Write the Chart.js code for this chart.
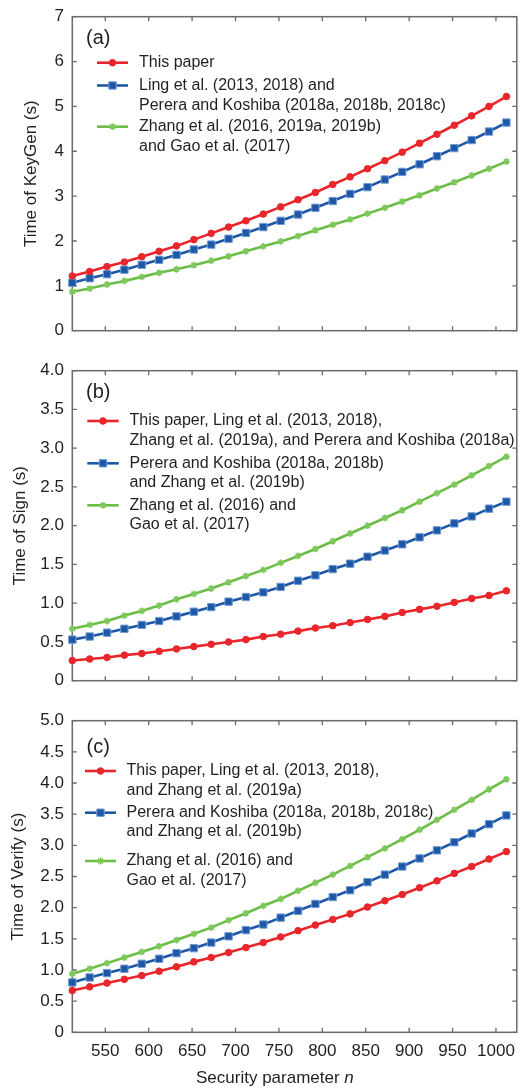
<!DOCTYPE html>
<html><head><meta charset="utf-8">
<script src="https://cdn.jsdelivr.net/npm/chart.js@4.4.0/dist/chart.umd.min.js"></script>
<style>
html,body{margin:0;padding:0;background:#fff;}
body{width:523px;height:1088px;position:relative;overflow:hidden;}
canvas{position:absolute;left:0;}
</style></head><body>
<canvas id="ca" width="523" height="345" style="top:0px"></canvas>
<canvas id="cb" width="523" height="350" style="top:345px"></canvas>
<canvas id="cc" width="523" height="393" style="top:695px"></canvas>
<script>
// ---------- data ----------
const securityN = [512,532,552,572,592,612,632,652,672,692,712,732,752,772,792,812,832,852,872,892,912,932,952,972,992,1012];

const keyGenThisPaper = [1.22,1.32,1.43,1.53,1.65,1.77,1.89,2.03,2.17,2.31,2.45,2.60,2.76,2.92,3.08,3.26,3.43,3.61,3.79,3.98,4.18,4.38,4.58,4.79,5.00,5.22];
const keyGenLing      = [1.07,1.17,1.26,1.36,1.47,1.58,1.69,1.81,1.92,2.05,2.18,2.31,2.45,2.59,2.74,2.89,3.05,3.20,3.37,3.54,3.71,3.89,4.07,4.25,4.44,4.64];
const keyGenZhang     = [0.87,0.94,1.03,1.11,1.20,1.29,1.37,1.46,1.56,1.66,1.77,1.88,1.99,2.11,2.24,2.36,2.48,2.61,2.74,2.88,3.02,3.17,3.31,3.46,3.61,3.77];

const signThisPaper = [0.26,0.28,0.30,0.33,0.35,0.38,0.41,0.44,0.47,0.50,0.53,0.57,0.60,0.64,0.68,0.71,0.75,0.79,0.83,0.88,0.92,0.96,1.01,1.06,1.10,1.16];
const signPerera    = [0.53,0.57,0.62,0.67,0.72,0.77,0.83,0.89,0.95,1.02,1.08,1.14,1.21,1.29,1.36,1.44,1.51,1.60,1.68,1.76,1.85,1.94,2.03,2.12,2.22,2.31];
const signZhang     = [0.67,0.72,0.77,0.84,0.90,0.97,1.05,1.12,1.19,1.27,1.35,1.43,1.52,1.61,1.70,1.80,1.90,2.00,2.10,2.20,2.31,2.42,2.53,2.65,2.77,2.89];

const verifyThisPaper = [0.67,0.73,0.79,0.85,0.91,0.98,1.05,1.13,1.20,1.28,1.36,1.44,1.53,1.63,1.72,1.81,1.90,2.01,2.11,2.21,2.32,2.43,2.55,2.66,2.78,2.90];
const verifyPerera    = [0.80,0.88,0.95,1.02,1.10,1.18,1.27,1.35,1.44,1.54,1.64,1.73,1.84,1.95,2.06,2.17,2.28,2.41,2.53,2.66,2.79,2.92,3.05,3.19,3.34,3.48];
const verifyZhang     = [0.94,1.02,1.11,1.20,1.29,1.38,1.48,1.58,1.68,1.80,1.91,2.03,2.14,2.27,2.40,2.53,2.67,2.81,2.95,3.10,3.25,3.41,3.57,3.73,3.90,4.06];

const xTickValues = [550,600,650,700,750,800,850,900,950,1000];
const xTickLabels = ['550','600','650','700','750','800','850','900','950','1000'];
const keyGenTickValues = [0,1,2,3,4,5,6,7];
const keyGenTickLabels = ['0','1','2','3','4','5','6','7'];
const signTickValues = [0,0.5,1,1.5,2,2.5,3,3.5,4];
const signTickLabels = ['0','0.5','1.0','1.5','2.0','2.5','3.0','3.5','4.0'];
const verifyTickValues = [0,0.5,1,1.5,2,2.5,3,3.5,4,4.5,5];
const verifyTickLabels = ['0','0.5','1.0','1.5','2.0','2.5','3.0','3.5','4.0','4.5','5.0'];

const keyGenLegend = [["This paper"],["Ling et al. (2013, 2018) and","Perera and Koshiba (2018a, 2018b, 2018c)"],["Zhang et al. (2016, 2019a, 2019b)","and Gao et al. (2017)"]];
const signLegend = [["This paper, Ling et al. (2013, 2018),","Zhang et al. (2019a), and Perera and Koshiba (2018a)"],["Perera and Koshiba (2018a, 2018b)","and Zhang et al. (2019b)"],["Zhang et al. (2016) and","Gao et al. (2017)"]];
const verifyLegend = [["This paper, Ling et al. (2013, 2018),","and Zhang et al. (2019a)"],["Perera and Koshiba (2018a, 2018b, 2018c)","and Zhang et al. (2019b)"],["Zhang et al. (2016) and","Gao et al. (2017)"]];

// ---------- styles ----------
const FONT = "'Liberation Sans', Arial, Helvetica, sans-serif";
const TXT = '#231f20';
const RED = '#e8262b', BLUE = '#1e57a6', GREEN = '#6cbd45';
const FRAME = '#6b6b6b';

function ds(label, data, color, style){
  const o = {label: label, data: data.map((v,i)=>({x: securityN[i], y: v})),
    borderColor: color, backgroundColor: color, borderWidth: 2.6, tension: 0,
    pointStyle: style, pointRadius: 3.3, pointBorderWidth: 1, pointBorderColor: color, pointBackgroundColor: color,
    clip: false};
  if (style === 'rect'){ o.pointRadius = 5.2; o.pointBorderColor = '#6f9bd6'; o.pointBorderWidth = 1; }
  if (style === 'star'){ o.pointRadius = 3.4; o.pointBorderWidth = 1.6; o.pointBorderColor = '#7cc85a'; }
  return o;
}

const framePlugin = {
  id: 'frame',
  beforeDatasetsDraw(chart){
    const {ctx, chartArea: a, scales: {x, y}} = chart;
    ctx.save();
    ctx.strokeStyle = FRAME; ctx.lineWidth = 1.5;
    ctx.strokeRect(a.left, a.top, a.right - a.left, a.bottom - a.top);
    ctx.lineWidth = 1.3;
    const L = 4.5;
    ctx.beginPath();
    x.ticks.forEach(t => { const px = x.getPixelForValue(t.value);
      ctx.moveTo(px, a.bottom); ctx.lineTo(px, a.bottom - L);
      ctx.moveTo(px, a.top); ctx.lineTo(px, a.top + L); });
    y.ticks.forEach(t => { const py = y.getPixelForValue(t.value);
      ctx.moveTo(a.left, py); ctx.lineTo(a.left + L, py);
      ctx.moveTo(a.right, py); ctx.lineTo(a.right - L, py); });
    ctx.stroke();
    ctx.restore();
  },
  afterDraw(chart){
    const o = chart.options.plugins.frame;
    const ctx = chart.ctx;
    ctx.save();
    ctx.fillStyle = TXT;
    ctx.textBaseline = 'middle';
    ctx.font = '20px ' + FONT;
    ctx.fillText(o.panel, o.panelX, o.panelY);
    // legend
    ctx.font = '16px ' + FONT;
    chart.data.datasets.forEach((d, i) => {
      const y0 = o.rowY[i];
      ctx.strokeStyle = d.borderColor; ctx.lineWidth = d.borderWidth;
      ctx.beginPath(); ctx.moveTo(o.lineX0, y0); ctx.lineTo(o.lineX1, y0); ctx.stroke();
      ctx.fillStyle = d.pointBackgroundColor; ctx.strokeStyle = d.pointBorderColor; ctx.lineWidth = d.pointBorderWidth;
      Chart.helpers.drawPoint(ctx, {pointStyle: d.pointStyle, radius: d.pointRadius, rotation: 0, borderWidth: d.pointBorderWidth}, (o.lineX0 + o.lineX1)/2, y0);
      ctx.fillStyle = TXT;
      d.label.forEach((line, j) => ctx.fillText(line, o.textX, y0 + j * o.lineGap));
    });
    if (o.xTitle){
      ctx.textBaseline = 'alphabetic';
      ctx.font = '17px ' + FONT;
      const part = 'Security parameter ';
      ctx.fillText(part, o.xTitleX, o.xTitleY);
      const w = ctx.measureText(part).width;
      ctx.font = 'italic 17px ' + FONT;
      ctx.fillText('n', o.xTitleX + w, o.xTitleY);
    }
    ctx.restore();
  }
};

function makeChart(id, datasets, yMax, yTickVals, yTickLabs, yTitle, yTitlePad, padTop, xHeight, showX, frameOpts){
  return new Chart(document.getElementById(id), {
    type: 'line',
    data: {datasets: datasets},
    plugins: [framePlugin],
    options: {
      responsive: false, animation: false, devicePixelRatio: 1,
      layout: {padding: {top: padTop, right: 3.7, left: 0, bottom: 0}},
      plugins: {legend: {display: false}, tooltip: {enabled: false}, frame: frameOpts},
      scales: {
        x: {type: 'linear', min: 512, max: 1024,
          afterBuildTicks: s => { s.ticks = xTickValues.map(v => ({value: v})); },
          afterFit: s => { s.height = xHeight; s.paddingLeft = 0; s.paddingRight = 0; },
          grid: {display: false, drawTicks: false}, border: {display: false},
          ticks: {display: showX, autoSkip: false, maxRotation: 0, padding: 9, color: TXT,
            font: {family: FONT, size: 17}, callback: (v, i) => xTickLabels[i]}},
        y: {min: 0, max: yMax,
          afterBuildTicks: s => { s.ticks = yTickVals.map(v => ({value: v})); },
          afterFit: s => { s.width = 72.3; s.paddingTop = 0; s.paddingBottom = 0; },
          grid: {display: false, drawTicks: false}, border: {display: false},
          ticks: {autoSkip: false, padding: 8.3, color: TXT, font: {family: FONT, size: 17},
            callback: (v, i) => yTickLabs[i]},
          title: {display: true, text: yTitle, color: TXT, font: {family: FONT, size: 17},
            padding: {top: yTitlePad, bottom: 0}}}
      }
    }
  });
}

makeChart('ca', [
  ds(keyGenLegend[0], keyGenThisPaper, RED, 'circle'),
  ds(keyGenLegend[1], keyGenLing, BLUE, 'rect'),
  ds(keyGenLegend[2], keyGenZhang, GREEN, 'star')
], 7, keyGenTickValues, keyGenTickLabels, 'Time of KeyGen (s)', 21, 16.7, 14.3, false,
  {panel: '(a)', panelX: 86, panelY: 38.5, lineX0: 97, lineX1: 128, textX: 139, rowY: [62.7, 85.5, 126.7], lineGap: 20.3});

makeChart('cb', [
  ds(signLegend[0], signThisPaper, RED, 'circle'),
  ds(signLegend[1], signPerera, BLUE, 'rect'),
  ds(signLegend[2], signZhang, GREEN, 'star')
], 4, signTickValues, signTickLabels, 'Time of Sign (s)', 10, 25.7, 14.3, false,
  {panel: '(b)', panelX: 86, panelY: 392 - 345, lineX0: 87.3, lineX1: 118.7, textX: 129.5, rowY: [421 - 345, 463.3 - 345, 505.3 - 345], lineGap: 19.6});

makeChart('cc', [
  ds(verifyLegend[0], verifyThisPaper, RED, 'circle'),
  ds(verifyLegend[1], verifyPerera, BLUE, 'rect'),
  ds(verifyLegend[2], verifyZhang, GREEN, 'star')
], 5, verifyTickValues, verifyTickLabels, 'Time of Verify (s)', 7.8, 25.7, 55.7, true,
  {panel: '(c)', panelX: 86.5, panelY: 747 - 695, lineX0: 85, lineX1: 116, textX: 126.5, rowY: [771 - 695, 812.7 - 695, 861 - 695], lineGap: 19.2,
   xTitle: true, xTitleX: 196, xTitleY: 1083 - 695});
</script>
</body></html>
